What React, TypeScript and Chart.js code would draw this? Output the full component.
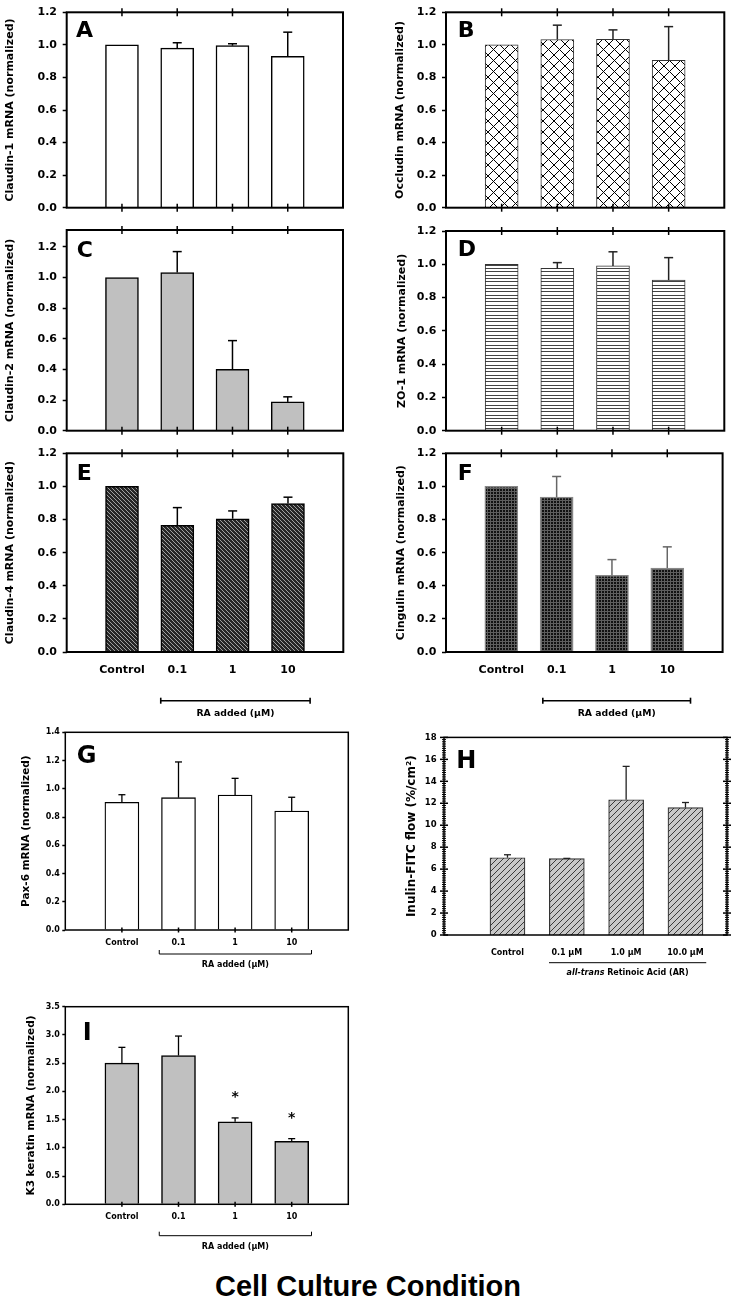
import React, { useEffect, useRef } from 'react';
import { Chart, registerables } from 'chart.js';

Chart.register(...registerables);

const FONT = "'DejaVu Sans', 'Liberation Sans', Arial, sans-serif";

// ---------- data ----------
const doseLabels = ['Control', '0.1', '1', '10'];
const doseLabelsUM = ['Control', '0.1 µM', '1.0 µM', '10.0 µM'];
const barSlots = [1, 2, 3, 4];
const barSlotsH = [0, 1, 2, 3];

const claudin1 = [1.0, 0.98, 0.995, 0.93];
const claudin1Err = [0, 0.033, 0.012, 0.148];
const occludin = [1.0, 1.033, 1.034, 0.905];
const occludinErr = [0, 0.088, 0.058, 0.207];
const claudin2 = [1.0, 1.032, 0.4, 0.188];
const claudin2Err = [0, 0.137, 0.188, 0.033];
const zo1 = [1.0, 0.975, 0.99, 0.905];
const zo1Err = [0, 0.035, 0.085, 0.135];
const claudin4 = [1.0, 0.765, 0.805, 0.897];
const claudin4Err = [0, 0.107, 0.047, 0.038];
const cingulin = [1.0, 0.935, 0.463, 0.507];
const cingulinErr = [0, 0.125, 0.095, 0.128];
const pax6 = [0.904, 0.937, 0.956, 0.843];
const pax6Err = [0.054, 0.253, 0.118, 0.097];
const inulinFlow = [7.04, 6.95, 12.32, 11.6];
const inulinFlowErr = [0.27, 0.03, 3.04, 0.47];
const k3Keratin = [2.5, 2.635, 1.46, 1.117];
const k3KeratinErr = [0.28, 0.345, 0.07, 0.046];
const k3Significant = [false, false, true, true];

// ---------- fills ----------
function makeFill(kind: string): any {
  if (kind === 'white') return '#ffffff';
  if (kind === 'gray') return '#c0c0c0';
  const c = document.createElement('canvas');
  const g = c.getContext('2d') as CanvasRenderingContext2D;
  const seg = (x1: number, y1: number, x2: number, y2: number) => {
    g.moveTo(x1, y1);
    g.lineTo(x2, y2);
  };
  if (kind === 'cross') {
    c.width = 11; c.height = 11;
    g.fillStyle = '#fff'; g.fillRect(0, 0, 11, 11);
    g.strokeStyle = '#000'; g.lineWidth = 1;
    g.beginPath(); seg(0, 0, 11, 11); seg(11, 0, 0, 11); g.stroke();
  } else if (kind === 'hlines') {
    c.width = 4; c.height = 10;
    g.fillStyle = '#fff'; g.fillRect(0, 0, 4, 10);
    g.fillStyle = '#444';
    g.fillRect(0, 0, 4, 1); g.fillRect(0, 3, 4, 1); g.fillRect(0, 6, 4, 1);
  } else if (kind === 'darkdiag') {
    c.width = 4; c.height = 4;
    g.fillStyle = '#262626'; g.fillRect(0, 0, 4, 4);
    g.strokeStyle = '#a0a0a0'; g.lineWidth = 1;
    g.beginPath(); seg(0, 0, 4, 4); seg(-1, 3, 1, 5); seg(3, -1, 5, 1); g.stroke();
  } else if (kind === 'darkgrid') {
    c.width = 3; c.height = 3;
    g.fillStyle = '#111'; g.fillRect(0, 0, 3, 3);
    g.fillStyle = '#5e5e5e';
    g.fillRect(0, 0, 3, 1); g.fillRect(0, 0, 1, 3);
  } else if (kind === 'graydiag') {
    c.width = 6; c.height = 6;
    g.fillStyle = '#c8c8c8'; g.fillRect(0, 0, 6, 6);
    g.strokeStyle = '#3a3a3a'; g.lineWidth = 1;
    g.beginPath(); seg(0, 6, 6, 0); seg(-1, 1, 1, -1); seg(5, 7, 7, 5); g.stroke();
  }
  return g.createPattern(c, 'repeat');
}

// ---------- panels ----------
interface Bracket {
  from: number; to: number; dy: number; caps: string; width: number;
  textDy: number; size: number; parts: { t: string; italic?: boolean }[];
}
interface Panel {
  letter: string; letterDx: number; letterDy: number; letterSize: number;
  values: number[]; errors: number[]; slots: number[]; labels: string[] | null;
  xMin: number; xMax: number;
  yMax: number; yStep: number; yDec: number; minorStep?: number;
  yTitle: string; titleSize: number; titlePad: number;
  tickSize: number; yTickLen: number; yPad: number; xLabelPad: number; xLabelSize: number;
  canvas: number[]; plot: number[];
  fill: string; border: string; borderWidth: number; barW: number;
  errColor: string; errWidth: number; cap: number;
  boxWidth: number; topTicks: boolean; bottomTicks: boolean; tickHalf: number;
  bracket?: Bracket; stars?: boolean[];
}

const baseAF = {
  letterSize: 22, slots: barSlots, xMin: 0, xMax: 5, yStep: 0.2, yDec: 1,
  titleSize: 11, tickSize: 11, yTickLen: 4, yPad: 5.7, xLabelPad: 11.4, xLabelSize: 11,
  barW: 33, errWidth: 1.5, cap: 9, boxWidth: 2, topTicks: true, tickHalf: 4,
};
const baseGI = {
  letterSize: 24, slots: barSlots, xMin: 0, xMax: 5,
  titleSize: 10.5, tickSize: 8, yTickLen: 3, yPad: 2.5, xLabelSize: 8,
  barW: 34, errWidth: 1.3, cap: 7, boxWidth: 1.5, topTicks: false, bottomTicks: true, tickHalf: 2.5,
};

const panels: Panel[] = [
  {
    ...baseAF, letter: 'A', letterDx: 9.3, letterDy: 25,
    values: claudin1, errors: claudin1Err, labels: null, yMax: 1.2,
    yTitle: 'Claudin-1 mRNA (normalized)', titlePad: 3.4,
    canvas: [0, 0, 367, 220], plot: [66.7, 9.3, 343, 209],
    fill: 'white', border: '#000', borderWidth: 1.5, errColor: '#000', bottomTicks: true,
  },
  {
    ...baseAF, letter: 'B', letterDx: 11.7, letterDy: 25,
    values: occludin, errors: occludinErr, labels: null, yMax: 1.2,
    yTitle: 'Occludin mRNA (normalized)', titlePad: 26.4,
    canvas: [367, 0, 367, 220], plot: [446, 9.3, 724.3, 209],
    fill: 'cross', border: '#333', borderWidth: 1, errColor: '#222', bottomTicks: true,
  },
  {
    ...baseAF, letter: 'C', letterDx: 10, letterDy: 26.5,
    values: claudin2, errors: claudin2Err, labels: null, yMax: 1.31,
    yTitle: 'Claudin-2 mRNA (normalized)', titlePad: 3.4,
    canvas: [0, 215, 367, 228], plot: [66.7, 230, 343, 431],
    fill: 'gray', border: '#000', borderWidth: 1.5, errColor: '#000', bottomTicks: true,
  },
  {
    ...baseAF, letter: 'D', letterDx: 11.7, letterDy: 25,
    values: zo1, errors: zo1Err, labels: null, yMax: 1.2,
    yTitle: 'ZO-1 mRNA (normalized)', titlePad: 28.4,
    canvas: [367, 215, 367, 228], plot: [446, 231, 724.3, 431],
    fill: 'hlines', border: '#333', borderWidth: 1, errColor: '#222', bottomTicks: true,
  },
  {
    ...baseAF, letter: 'E', letterDx: 10, letterDy: 26.7,
    values: claudin4, errors: claudin4Err, labels: doseLabels, yMax: 1.2,
    yTitle: 'Claudin-4 mRNA (normalized)', titlePad: 3.4,
    canvas: [0, 440, 367, 285], plot: [66.7, 453.3, 343.3, 652],
    fill: 'darkdiag', border: '#000', borderWidth: 1.5, errColor: '#000', bottomTicks: false,
    bracket: { from: 1.7, to: 4.4, dy: 48.7, caps: 'both', width: 1.6, textDy: 62, size: 9.3, parts: [{ t: 'RA added (µM)' }] },
  },
  {
    ...baseAF, letter: 'F', letterDx: 11.7, letterDy: 26.7,
    values: cingulin, errors: cingulinErr, labels: doseLabels, yMax: 1.2,
    yTitle: 'Cingulin mRNA (normalized)', titlePad: 27.4,
    canvas: [367, 440, 367, 285], plot: [446, 453.3, 724.3, 652],
    fill: 'darkgrid', border: '#888', borderWidth: 1.5, errColor: '#666', bottomTicks: false,
    bracket: { from: 1.75, to: 4.42, dy: 48.7, caps: 'both', width: 1.6, textDy: 62, size: 9.3, parts: [{ t: 'RA added (µM)' }] },
  },
  {
    ...baseGI, letter: 'G', letterDx: 11.4, letterDy: 31,
    values: pax6, errors: pax6Err, labels: doseLabels, yMax: 1.4, yStep: 0.2, yDec: 1,
    yTitle: 'Pax-6 mRNA (normalized)', titlePad: 20.4, xLabelPad: 8.2,
    canvas: [0, 725, 367, 265], plot: [65.3, 732.3, 348.3, 930],
    fill: 'white', border: '#000', borderWidth: 1.3, errColor: '#000',
    bracket: { from: 1.66, to: 4.35, dy: 24, caps: 'up', width: 1, textDy: 35, size: 8, parts: [{ t: 'RA added (µM)' }] },
  },
  {
    ...baseGI, letter: 'H', letterDx: 12.3, letterDy: 31,
    values: inulinFlow, errors: inulinFlowErr, labels: doseLabelsUM, slots: barSlotsH, xMin: -1.07, xMax: 3.7,
    yMax: 18, yStep: 2, yDec: 0, minorStep: 0.2,
    yTitle: 'Inulin-FITC flow (%/cm²)', titleSize: 12, titlePad: 37.8, tickSize: 8.5,
    yTickLen: 0, yPad: 7.3, xLabelPad: 12.9,
    canvas: [367, 725, 367, 265], plot: [444, 732.3, 727, 935],
    fill: 'graydiag', border: '#333', borderWidth: 1.2, barW: 35, errColor: '#222', bottomTicks: false,
    bracket: { from: 0.7, to: 3.35, dy: 27.7, caps: 'none', width: 1, textDy: 38.3, size: 8,
      parts: [{ t: 'all-trans', italic: true }, { t: ' Retinoic Acid (AR)' }] },
  },
  {
    ...baseGI, letter: 'I', letterDx: 17.4, letterDy: 33.3,
    values: k3Keratin, errors: k3KeratinErr, labels: doseLabels, yMax: 3.5, yStep: 0.5, yDec: 1,
    yTitle: 'K3 keratin mRNA (normalized)', titlePad: 24.7, xLabelPad: 7.9,
    canvas: [0, 995, 367, 265], plot: [65.3, 1006.7, 348.3, 1204.3],
    fill: 'gray', border: '#000', borderWidth: 1.5, errColor: '#000',
    bracket: { from: 1.66, to: 4.35, dy: 31.4, caps: 'up', width: 1, textDy: 42.4, size: 8, parts: [{ t: 'RA added (µM)' }] },
    stars: k3Significant,
  },
];

// ---------- decoration plugin ----------
function decor(p: Panel) {
  const line = (ctx: CanvasRenderingContext2D, x1: number, y1: number, x2: number, y2: number) => {
    ctx.beginPath(); ctx.moveTo(x1, y1); ctx.lineTo(x2, y2); ctx.stroke();
  };
  return {
    id: 'decor' + p.letter,
    afterDatasetsDraw(chart: any) {
      const ctx = chart.ctx as CanvasRenderingContext2D;
      const xs = chart.scales.x; const ys = chart.scales.y;
      ctx.save();
      ctx.strokeStyle = p.errColor; ctx.lineWidth = p.errWidth;
      p.values.forEach((v, i) => {
        const e = p.errors[i];
        if (!e) return;
        const px = xs.getPixelForValue(p.slots[i]);
        const y0 = ys.getPixelForValue(v);
        const y1 = ys.getPixelForValue(v + e);
        line(ctx, px, y0, px, y1);
        line(ctx, px - p.cap / 2, y1, px + p.cap / 2, y1);
      });
      ctx.restore();
    },
    afterDraw(chart: any) {
      const ctx = chart.ctx as CanvasRenderingContext2D;
      const a = chart.chartArea;
      const xs = chart.scales.x; const ys = chart.scales.y;
      ctx.save();
      ctx.strokeStyle = '#000';
      ctx.lineWidth = p.boxWidth;
      ctx.strokeRect(a.left, a.top, a.right - a.left, a.bottom - a.top);
      ctx.lineWidth = 1.5;
      p.slots.forEach((s) => {
        const px = xs.getPixelForValue(s);
        if (p.topTicks) line(ctx, px, a.top - p.tickHalf, px, a.top + p.tickHalf);
        if (p.bottomTicks) line(ctx, px, a.bottom - p.tickHalf, px, a.bottom + p.tickHalf);
      });
      if (p.minorStep) {
        const n = Math.round(p.yMax / p.minorStep);
        const per = Math.round(p.yStep / p.minorStep);
        for (let k = 0; k <= n; k++) {
          const py = ys.getPixelForValue(k * p.minorStep);
          const len = k % per === 0 ? 4 : 2;
          ctx.lineWidth = k % per === 0 ? 1.5 : 1;
          line(ctx, a.left - len, py, a.left + len, py);
          line(ctx, a.right - len, py, a.right + len, py);
        }
      }
      // panel letter
      ctx.fillStyle = '#000';
      ctx.font = `bold ${p.letterSize}px ${FONT}`;
      ctx.textAlign = 'left';
      ctx.textBaseline = 'alphabetic';
      ctx.fillText(p.letter, a.left + p.letterDx, a.top + p.letterDy);
      // bracket
      if (p.bracket) {
        const bk = p.bracket;
        const x1 = xs.getPixelForValue(bk.from);
        const x2 = xs.getPixelForValue(bk.to);
        const yl = a.bottom + bk.dy;
        ctx.lineWidth = bk.width;
        line(ctx, x1, yl, x2, yl);
        if (bk.caps === 'both') {
          line(ctx, x1, yl - 3, x1, yl + 3);
          line(ctx, x2, yl - 3, x2, yl + 3);
        } else if (bk.caps === 'up') {
          line(ctx, x1, yl - 4, x1, yl);
          line(ctx, x2, yl - 4, x2, yl);
        }
        const fonts = bk.parts.map((pt) => `${pt.italic ? 'italic ' : ''}bold ${bk.size}px ${FONT}`);
        let total = 0;
        const widths = bk.parts.map((pt, i) => {
          ctx.font = fonts[i];
          const w = ctx.measureText(pt.t).width;
          total += w;
          return w;
        });
        let tx = (x1 + x2) / 2 - total / 2;
        ctx.textBaseline = 'middle';
        ctx.textAlign = 'left';
        bk.parts.forEach((pt, i) => {
          ctx.font = fonts[i];
          ctx.fillText(pt.t, tx, a.bottom + bk.textDy);
          tx += widths[i];
        });
      }
      // significance stars
      if (p.stars) {
        ctx.font = `bold 14px ${FONT}`;
        ctx.textAlign = 'center';
        ctx.textBaseline = 'alphabetic';
        p.stars.forEach((st, i) => {
          if (!st) return;
          const px = xs.getPixelForValue(p.slots[i]);
          const py = ys.getPixelForValue(p.values[i] + p.errors[i]);
          ctx.fillText('*', px, py - 17);
        });
      }
      ctx.restore();
    },
  };
}

function PanelChart({ p }: { p: Panel }) {
  const ref = useRef<HTMLCanvasElement>(null);
  const [cx, cy, cw, ch] = p.canvas;
  useEffect(() => {
    const [l, t, r, b] = p.plot;
    const chart = new Chart(ref.current as HTMLCanvasElement, {
      type: 'bar',
      data: {
        datasets: [
          {
            data: p.values.map((v, i) => ({ x: p.slots[i], y: v })),
            backgroundColor: makeFill(p.fill),
            borderColor: p.border,
            borderWidth: p.borderWidth,
            borderSkipped: 'start',
            barThickness: p.barW,
          } as any,
        ],
      },
      options: {
        responsive: false,
        animation: false,
        devicePixelRatio: 1,
        layout: { padding: { top: t - cy, right: cx + cw - r, left: 0, bottom: 0 } },
        plugins: { legend: { display: false }, tooltip: { enabled: false } },
        scales: {
          x: {
            type: 'linear',
            position: 'bottom',
            offset: false,
            min: p.xMin,
            max: p.xMax,
            grid: { display: false, drawTicks: false },
            border: { display: false },
            ticks: {
              display: !!p.labels,
              stepSize: 1,
              autoSkip: false,
              maxRotation: 0,
              minRotation: 0,
              includeBounds: false,
              padding: p.xLabelPad,
              color: '#000',
              font: { family: FONT, size: p.xLabelSize, weight: 'bold' },
              callback: (v: any) => {
                const i = p.slots.indexOf(Math.round(Number(v)));
                return i >= 0 && p.labels ? p.labels[i] : '';
              },
            },
            afterFit: (s: any) => { s.height = cy + ch - b; },
          } as any,
          y: {
            position: 'left',
            min: 0,
            max: p.yMax,
            grid: {
              display: p.yTickLen > 0,
              drawOnChartArea: false,
              drawTicks: true,
              tickLength: p.yTickLen,
              tickColor: '#000',
              tickWidth: 1.5,
            },
            border: { display: false },
            ticks: {
              stepSize: p.yStep,
              includeBounds: false,
              padding: p.yPad,
              color: '#000',
              font: { family: FONT, size: p.tickSize, weight: 'bold' },
              callback: (v: any) => Number(v).toFixed(p.yDec),
            },
            title: {
              display: true,
              text: p.yTitle,
              color: '#000',
              font: { family: FONT, size: p.titleSize, weight: 'bold' },
              padding: { top: p.titlePad, bottom: 0 },
            },
            afterFit: (s: any) => { s.width = l - cx; },
          } as any,
        },
      },
      plugins: [decor(p)],
    });
    return () => chart.destroy();
  }, []);
  return (
    <canvas
      ref={ref}
      width={cw}
      height={ch}
      style={{ position: 'absolute', left: cx, top: cy, width: cw, height: ch }}
    />
  );
}

export default function App() {
  return (
    <div style={{ position: 'absolute', left: 0, top: 0, width: 734, height: 1304, background: '#fff', overflow: 'hidden' }}>
      {panels.map((p) => (
        <PanelChart key={p.letter} p={p} />
      ))}
      <div
        style={{
          position: 'absolute',
          left: 0,
          top: 1272,
          width: 736,
          textAlign: 'center',
          fontFamily: "'Liberation Sans', Arial, sans-serif",
          fontWeight: 'bold',
          fontSize: 29,
          lineHeight: '29px',
          color: '#000',
          whiteSpace: 'nowrap',
        }}
      >
        Cell Culture Condition
      </div>
    </div>
  );
}
